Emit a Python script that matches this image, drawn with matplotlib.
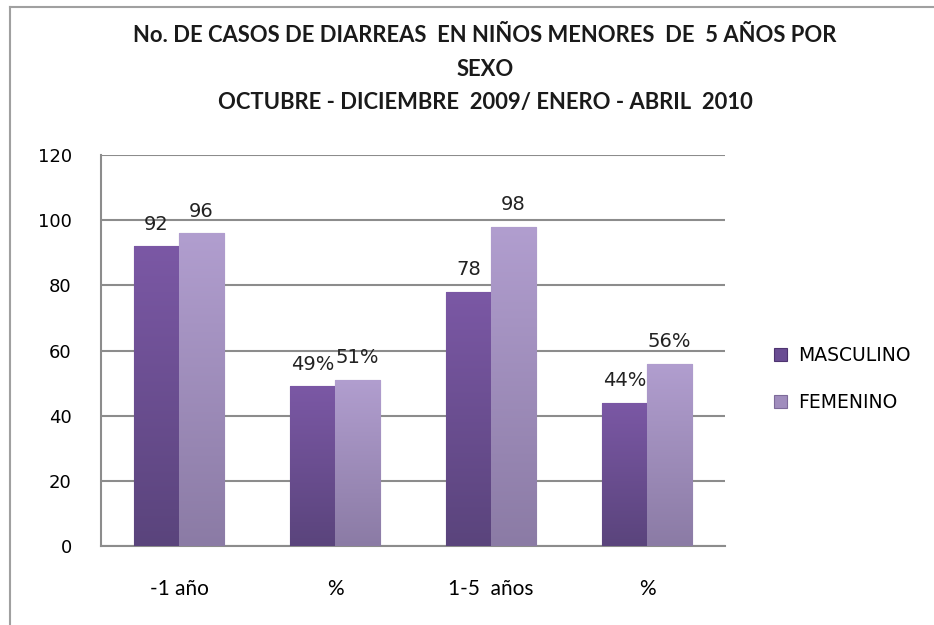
import numpy as np
import matplotlib.pyplot as plt
from matplotlib.lines import Line2D
from matplotlib.colors import LinearSegmentedColormap

# data
categories = ["-1 año", "%", "1-5  años", "%"]
masculino = [92, 49, 78, 44]
femenino = [96, 51, 98, 56]
labels_masc = ["92", "49%", "78", "44%"]
labels_fem = ["96", "51%", "98", "56%"]

title = ("No. DE CASOS DE DIARREAS  EN NIÑOS MENORES  DE  5 AÑOS POR\n"
         "SEXO\n"
         "OCTUBRE - DICIEMBRE  2009/ ENERO - ABRIL  2010")

c_masc = "#70509a"
c_fem = "#a794c2"
cmap_masc = LinearSegmentedColormap.from_list("m", ["#5a447c", "#7b58a5"])
cmap_fem = LinearSegmentedColormap.from_list("f", ["#8b7ba5", "#b19ecf"])

fig = plt.figure(figsize=(9.34, 6.25), dpi=100)
ax = fig.add_axes([101 / 934, 79 / 625, 624 / 934, 391 / 625])

x = np.arange(len(categories))
w = 0.29

b1 = ax.bar(x - w / 2, masculino, w, color=c_masc, edgecolor="#4e3470",
            linewidth=0.8, label="MASCULINO", zorder=3)
b2 = ax.bar(x + w / 2, femenino, w, color=c_fem, edgecolor="#7e6b9a",
            linewidth=0.8, label="FEMENINO", zorder=3)

# vertical gradient on every bar, clipped to its rectangle
grad = np.linspace(0, 1, 256).reshape(-1, 1)
for bars, cmap in [(b1, cmap_masc), (b2, cmap_fem)]:
    for rect in bars:
        x0 = rect.get_x()
        h = rect.get_height()
        im = ax.imshow(grad, extent=[x0, x0 + rect.get_width(), 0, h],
                       origin="lower", aspect="auto", cmap=cmap, zorder=3.5)
        im.set_clip_path(rect)

for rect, txt in zip(b1, labels_masc):
    ax.annotate(txt, (rect.get_x() + rect.get_width() / 2, rect.get_height()),
                xytext=(0, 9), textcoords="offset points", ha="center",
                va="bottom", fontsize=14, color="#222222")
for rect, txt in zip(b2, labels_fem):
    ax.annotate(txt, (rect.get_x() + rect.get_width() / 2, rect.get_height()),
                xytext=(0, 9), textcoords="offset points", ha="center",
                va="bottom", fontsize=14, color="#222222")

ax.set_xlim(-0.5, 3.5)
ax.set_ylim(0, 120)
ax.set_yticks(range(0, 121, 20))
ax.set_xticks(x)
ax.set_xticklabels(categories, fontsize=15, family="Lato")
ax.tick_params(axis="y", length=0, pad=21, labelsize=13)
ax.tick_params(axis="x", length=0, pad=24)
ax.yaxis.grid(True, color="#8c8c8c", linewidth=1.5, zorder=0)
ax.set_axisbelow(True)

for s in ["top", "right"]:
    ax.spines[s].set_visible(False)
ax.spines["left"].set_color("#8c8c8c")
ax.spines["bottom"].set_color("#8c8c8c")
ax.spines["left"].set_linewidth(1.5)
ax.spines["bottom"].set_linewidth(1.5)

fig.text(485 / 934, 1 - 25 / 625, title, ha="center", va="top",
         fontsize=15.8, fontweight="bold", family="Lato", color="#1a1a1a",
         linespacing=1.75)

leg = ax.legend(loc="center left", bbox_to_anchor=(1.052, 0.427), frameon=False,
                fontsize=13.5, handlelength=0.65, handleheight=0.65,
                labelspacing=1.5, handletextpad=0.6)
# legend patches follow the gradient colours
leg.legend_handles[0].set_facecolor("#6a4d93")
leg.legend_handles[1].set_facecolor("#a08dbd")

# outer chart frame
fig.add_artist(Line2D([10 / 934, 10 / 934], [0, 1 - 7 / 625],
                      transform=fig.transFigure, color="#a0a0a0", lw=1.5))
fig.add_artist(Line2D([10 / 934, 1], [1 - 7 / 625, 1 - 7 / 625],
                      transform=fig.transFigure, color="#a0a0a0", lw=1.5))

fig.savefig("out.png", dpi=100, facecolor="white")
